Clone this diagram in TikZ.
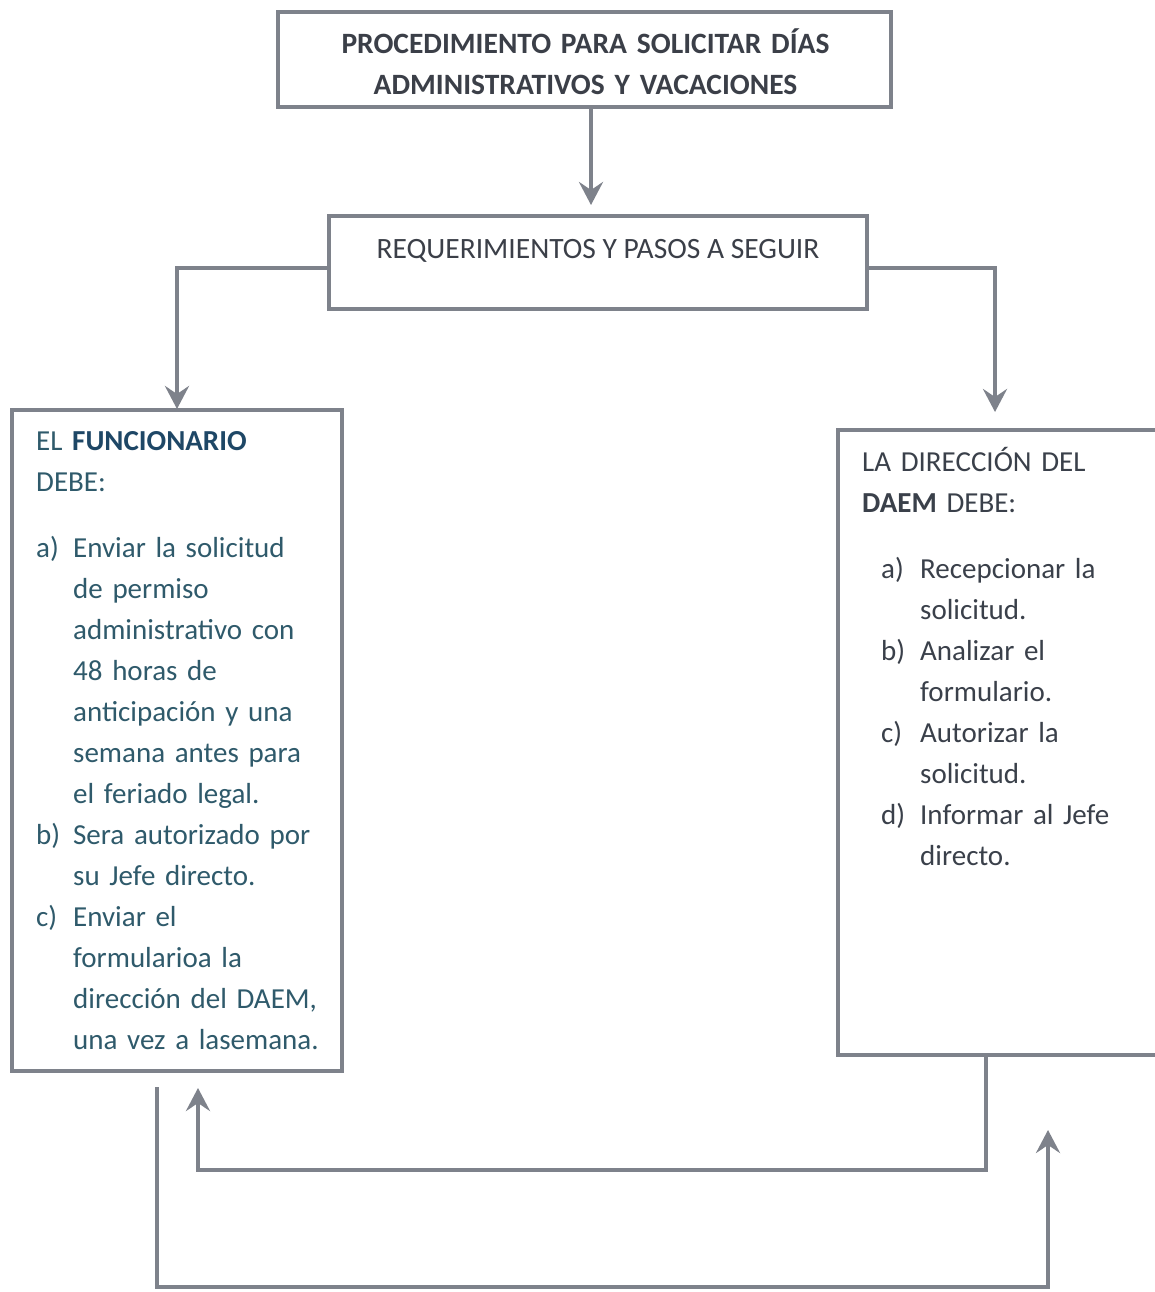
\documentclass[tikz,border=0pt]{standalone}
\usepackage{fontspec}
\setmainfont{Carlito}
\usetikzlibrary{arrows.meta,calc}
\definecolor{edgegray}{HTML}{7E828B}
\definecolor{titletext}{HTML}{3B3F48}
\definecolor{lefttext}{HTML}{2F5A6B}
\definecolor{leftbold}{HTML}{1E4766}
\definecolor{righttext}{HTML}{3A404A}
\tikzset{
  frame/.style={draw=edgegray, line width=4pt, rectangle, inner sep=0pt, fill=white},
  conn/.style={draw=edgegray, line width=4pt, line join=miter,
    -{Stealth[length=23pt,width=24pt,inset=8pt]}},
  body/.style={font=\fontsize{29}{41}\selectfont, inner sep=0pt, align=left}
}
\newcommand{\lab}[2]{\makebox[#1][l]{#2}}
\begin{document}
\begin{tikzpicture}[x=1pt,y=-1pt]
\useasboundingbox[fill=white] (0,0) rectangle (1154,1292);

% boxes
\node[frame, minimum width=613pt, minimum height=95pt] (title) at (584.5,59.5) {};
\node[frame, minimum width=538pt, minimum height=93pt] (req) at (598,262.5) {};
\node[frame, minimum width=330pt, minimum height=661pt] (func) at (177,740.5) {};
\node[frame, minimum width=326pt, minimum height=625pt] (daem) at (1001,742.5) {};

% texts
\node[font=\fontsize{29.5}{41}\selectfont\bfseries, text=titletext, align=center, text width=600pt,
  inner sep=0pt, anchor=base]
  (titletxt) at (585.5,54) {PROCEDIMIENTO PARA SOLICITAR DÍAS\\ADMINISTRATIVOS Y VACACIONES};
\node[font=\fontsize{29.5}{41}\selectfont, text=titletext, inner sep=0pt, anchor=base]
  (reqtxt) at (598,258) {REQUERIMIENTOS Y PASOS A SEGUIR};

\node[body, text=lefttext, text width=310pt, anchor=base west] (functxt) at (36,450)
  {EL \textbf{\color{leftbold}FUNCIONARIO}\\
   DEBE:\\[25pt]
   \lab{37pt}{a)}Enviar la solicitud\\
   \hspace*{37pt}de permiso\\
   \hspace*{37pt}administrativo con\\
   \hspace*{37pt}48 horas de\\
   \hspace*{37pt}anticipación y una\\
   \hspace*{37pt}semana antes para\\
   \hspace*{37pt}el feriado legal.\\
   \lab{37pt}{b)}Sera autorizado por\\
   \hspace*{37pt}su Jefe directo.\\
   \lab{37pt}{c)}Enviar el\\
   \hspace*{37pt}formularioa la\\
   \hspace*{37pt}dirección del DAEM,\\
   \hspace*{37pt}una vez a lasemana.};

\node[body, text=righttext, text width=290pt, anchor=base west] (daemtxt) at (862,471)
  {LA DIRECCIÓN DEL\\
   \textbf{DAEM} DEBE:\\[25pt]
   \hspace*{19pt}\lab{39pt}{a)}Recepcionar la\\
   \hspace*{58pt}solicitud.\\
   \hspace*{19pt}\lab{39pt}{b)}Analizar el\\
   \hspace*{58pt}formulario.\\
   \hspace*{19pt}\lab{39pt}{c)}Autorizar la\\
   \hspace*{58pt}solicitud.\\
   \hspace*{19pt}\lab{39pt}{d)}Informar al Jefe\\
   \hspace*{58pt}directo.};

% arrow end points and free ends
\coordinate (tipreq) at (591,205);
\coordinate (tipfunc) at (177,409);
\coordinate (tipdaem) at (995,412);
\coordinate (tipback) at (198,1088);
\coordinate (tipfwd) at (1048,1130);
\coordinate (fwdstart) at (157,1087);

% connectors
\draw[conn] (tipreq |- title.south) -- (tipreq);
\draw[conn] ($(req.west)+(0,5.5)$) -| (tipfunc);
\draw[conn] ($(req.east)+(0,5.5)$) -| (tipdaem);
\draw[conn] (daem.south -| 986,0) -- (986,1170) -| (tipback);
\draw[conn] (fwdstart) -- (157,1287) -| (tipfwd);
\end{tikzpicture}
\end{document}
